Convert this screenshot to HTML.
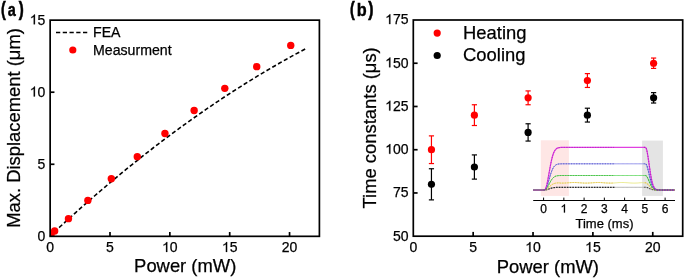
<!DOCTYPE html><html><head><meta charset="utf-8"><style>html,body{margin:0;padding:0;background:#fff;}svg{display:block;will-change:transform;}text{font-family:"Liberation Sans",sans-serif;stroke:#000;stroke-width:0.25px;}</style></head><body>
<svg width="685" height="279" viewBox="0 0 685 279">
<rect width="685" height="279" fill="#fff"/>
<text transform="translate(1.00,15.55) scale(0.73,1)" font-size="19.5" font-weight="bold" fill="#000" style="stroke-width:0.6px">(</text>
<text transform="translate(7.78,16.05) scale(0.81,1)" font-size="17.9" font-weight="bold" fill="#000" style="stroke-width:0.4px">a</text>
<text transform="translate(18.85,15.55) scale(0.77,1)" font-size="19.5" font-weight="bold" fill="#000" style="stroke-width:0.6px">)</text>
<polyline points="50.15,235.90 53.34,232.93 56.52,229.97 59.71,227.03 62.90,224.10 66.09,221.19 69.27,218.30 72.46,215.42 75.65,212.56 78.84,209.72 82.02,206.89 85.21,204.08 88.40,201.28 91.59,198.50 94.77,195.74 97.96,192.99 101.15,190.26 104.34,187.54 107.52,184.84 110.71,182.16 113.90,179.49 117.09,176.84 120.27,174.21 123.46,171.59 126.65,168.99 129.84,166.40 133.02,163.83 136.21,161.28 139.40,158.74 142.59,156.22 145.77,153.71 148.96,151.22 152.15,148.75 155.34,146.29 158.52,143.85 161.71,141.43 164.90,139.02 168.09,136.63 171.27,134.25 174.46,131.89 177.65,129.55 180.84,127.22 184.02,124.91 187.21,122.61 190.40,120.33 193.59,118.07 196.77,115.82 199.96,113.59 203.15,111.38 206.34,109.18 209.52,106.99 212.71,104.83 215.90,102.68 219.09,100.54 222.27,98.43 225.46,96.32 228.65,94.24 231.84,92.17 235.02,90.12 238.21,88.08 241.40,86.06 244.59,84.05 247.77,82.06 250.96,80.09 254.15,78.13 257.34,76.19 260.52,74.27 263.71,72.36 266.90,70.47 270.09,68.59 273.27,66.74 276.46,64.89 279.65,63.06 282.84,61.25 286.02,59.46 289.21,57.68 292.40,55.92 295.59,54.17 298.77,52.44 301.96,50.73 305.15,49.03" fill="none" stroke="#000" stroke-width="1.6" stroke-dasharray="4.2 2.48" stroke-dashoffset="1.10"/>
<defs><clipPath id="cpa"><rect x="50.15" y="20.15" width="269.25" height="216.18"/></clipPath></defs>
<g clip-path="url(#cpa)">
<circle cx="51.00" cy="234.80" r="3.7" fill="#f00"/>
<circle cx="54.65" cy="231.00" r="3.7" fill="#f00"/>
<circle cx="68.46" cy="218.64" r="3.7" fill="#f00"/>
<circle cx="87.86" cy="200.38" r="3.7" fill="#f00"/>
<circle cx="111.32" cy="178.81" r="3.7" fill="#f00"/>
<circle cx="137.29" cy="156.67" r="3.7" fill="#f00"/>
<circle cx="164.94" cy="133.51" r="3.7" fill="#f00"/>
<circle cx="194.15" cy="110.51" r="3.7" fill="#f00"/>
<circle cx="224.80" cy="88.36" r="3.7" fill="#f00"/>
<circle cx="256.75" cy="66.65" r="3.7" fill="#f00"/>
<circle cx="290.75" cy="45.40" r="3.7" fill="#f00"/>
</g>
<rect x="50.15" y="20.15" width="269.25" height="216.18" fill="none" stroke="#000" stroke-width="1.7"/>
<text x="37.51" y="240.83" font-size="14" fill="#000" stroke="#000" stroke-width="0.25">0</text>
<line x1="50.15" y1="164.27" x2="54.449999999999996" y2="164.27" stroke="#000" stroke-width="1.7"/>
<text x="37.51" y="168.77" font-size="14" fill="#000" stroke="#000" stroke-width="0.25">5</text>
<line x1="50.15" y1="92.21" x2="54.449999999999996" y2="92.21" stroke="#000" stroke-width="1.7"/>
<path transform="translate(29.73,96.41) scale(0.00684,-0.00667)" d="M763 0L583 0L583 1147Q518 1085 412 1023Q306 961 223 930L223 1104Q375 1175 489 1276Q603 1377 650 1472L763 1472Z" fill="#000" stroke="#000" stroke-width="36.6"/>
<text x="37.51" y="96.71" font-size="14" fill="#000" stroke="#000" stroke-width="0.25">0</text>
<path transform="translate(29.73,24.35) scale(0.00684,-0.00667)" d="M763 0L583 0L583 1147Q518 1085 412 1023Q306 961 223 930L223 1104Q375 1175 489 1276Q603 1377 650 1472L763 1472Z" fill="#000" stroke="#000" stroke-width="36.6"/>
<text x="37.51" y="24.65" font-size="14" fill="#000" stroke="#000" stroke-width="0.25">5</text>
<text x="46.26" y="252.20" font-size="14" fill="#000" stroke="#000" stroke-width="0.25">0</text>
<line x1="110.00" y1="236.33" x2="110.00" y2="232.03" stroke="#000" stroke-width="1.7"/>
<text x="106.11" y="252.20" font-size="14" fill="#000" stroke="#000" stroke-width="0.25">5</text>
<line x1="169.85" y1="236.33" x2="169.85" y2="232.03" stroke="#000" stroke-width="1.7"/>
<path transform="translate(162.06,251.90) scale(0.00684,-0.00667)" d="M763 0L583 0L583 1147Q518 1085 412 1023Q306 961 223 930L223 1104Q375 1175 489 1276Q603 1377 650 1472L763 1472Z" fill="#000" stroke="#000" stroke-width="36.6"/>
<text x="169.85" y="252.20" font-size="14" fill="#000" stroke="#000" stroke-width="0.25">0</text>
<line x1="229.70" y1="236.33" x2="229.70" y2="232.03" stroke="#000" stroke-width="1.7"/>
<path transform="translate(221.91,251.90) scale(0.00684,-0.00667)" d="M763 0L583 0L583 1147Q518 1085 412 1023Q306 961 223 930L223 1104Q375 1175 489 1276Q603 1377 650 1472L763 1472Z" fill="#000" stroke="#000" stroke-width="36.6"/>
<text x="229.70" y="252.20" font-size="14" fill="#000" stroke="#000" stroke-width="0.25">5</text>
<line x1="289.55" y1="236.33" x2="289.55" y2="232.03" stroke="#000" stroke-width="1.7"/>
<text x="281.76" y="252.20" font-size="14" fill="#000" stroke="#000" stroke-width="0.25">2</text>
<text x="289.55" y="252.20" font-size="14" fill="#000" stroke="#000" stroke-width="0.25">0</text>
<text x="185.2" y="272" font-size="18.4" text-anchor="middle" fill="#000">Power (mW)</text>
<text transform="translate(20.3,128.0) rotate(-90)" font-size="18.4" text-anchor="middle" fill="#000">Max. Displacement (μm)</text>
<line x1="56" y1="32.5" x2="87.3" y2="32.5" stroke="#000" stroke-width="1.6" stroke-dasharray="4.25 2.5"/>
<text x="93" y="37.2" font-size="14.15" fill="#000">FEA</text>
<circle cx="72.8" cy="50.0" r="3.6" fill="#f00"/>
<text x="93" y="54.6" font-size="14.15" fill="#000">Measurment</text>
<text transform="translate(350.00,15.55) scale(0.73,1)" font-size="19.5" font-weight="bold" fill="#000" style="stroke-width:0.6px">(</text>
<text transform="translate(356.83,16.05) scale(0.866,1)" font-size="18.8" font-weight="bold" fill="#000" style="stroke-width:0.4px">b</text>
<text transform="translate(368.35,15.55) scale(0.80,1)" font-size="19.5" font-weight="bold" fill="#000" style="stroke-width:0.6px">)</text>
<rect x="540.8" y="140.3" width="28.1" height="55.6" fill="#fee6e5"/>
<rect x="642.1" y="140.6" width="20.8" height="55.3" fill="#e4e4e4"/>
<polyline points="533.07,190.00 533.88,190.00 534.69,190.00 535.50,190.00 536.31,190.00 537.12,190.00 537.93,190.00 538.74,190.00 539.55,190.00 540.36,190.00 541.17,190.00 541.98,190.00 542.79,190.00 543.60,190.00 544.41,190.00 545.22,189.97 546.03,189.85 546.84,189.66 547.65,189.42 548.46,189.14 549.27,188.85 550.08,188.56 550.89,188.29 551.70,188.06 552.51,187.86 553.32,187.70 554.13,187.58 554.94,187.49 555.75,187.42 556.56,187.38 557.37,187.35 558.18,187.33 558.99,187.32 559.80,187.31 560.61,187.30 561.42,187.30 562.23,187.30 563.04,187.30 563.85,187.30 564.66,187.30 565.47,187.30 566.28,187.30 567.09,187.30 567.90,187.30 568.71,187.30 569.52,187.30 570.33,187.30 571.14,187.30 571.95,187.30 572.76,187.30 573.57,187.30 574.38,187.30 575.19,187.30 576.00,187.30 576.81,187.30 577.62,187.30 578.43,187.30 579.24,187.30 580.05,187.30 580.86,187.30 581.67,187.30 582.48,187.30 583.29,187.30 584.10,187.30 584.91,187.30 585.72,187.30 586.53,187.30 587.34,187.30 588.15,187.30 588.96,187.30 589.77,187.30 590.58,187.30 591.39,187.30 592.20,187.30 593.01,187.30 593.82,187.30 594.63,187.30 595.44,187.30 596.25,187.30 597.06,187.30 597.87,187.30 598.68,187.30 599.49,187.30 600.30,187.30 601.11,187.30 601.92,187.30 602.73,187.30 603.54,187.30 604.35,187.30 605.16,187.30 605.97,187.30 606.78,187.30 607.59,187.30 608.40,187.30 609.21,187.30 610.02,187.30 610.83,187.30 611.64,187.30 612.45,187.30 613.26,187.30 614.07,187.30 614.88,187.30 615.69,187.30 616.50,187.30 617.31,187.30 618.12,187.30 618.93,187.30 619.74,187.30 620.55,187.30 621.36,187.30 622.17,187.30 622.98,187.30 623.79,187.30 624.60,187.30 625.41,187.30 626.22,187.30 627.03,187.30 627.84,187.30 628.65,187.30 629.46,187.30 630.27,187.30 631.08,187.30 631.89,187.30 632.70,187.30 633.51,187.30 634.32,187.30 635.13,187.30 635.94,187.30 636.75,187.30 637.56,187.30 638.37,187.30 639.18,187.30 639.99,187.30 640.80,187.30 641.61,187.30 642.42,187.30 643.23,187.30 644.04,187.30 644.85,187.30 645.66,187.30 646.47,187.40 647.28,187.62 648.09,187.93 648.90,188.28 649.71,188.64 650.52,188.98 651.33,189.27 652.14,189.51 652.95,189.68 653.76,189.80 654.57,189.89 655.38,189.94 656.19,189.97 657.00,189.98 657.81,189.99 658.62,190.00 659.43,190.00 660.24,190.00 661.05,190.00 661.86,190.00 662.67,190.00 663.48,190.00 664.29,190.00 665.10,190.00 665.91,190.00 666.72,190.00 667.53,190.00 668.34,190.00 669.15,190.00 669.96,190.00 670.77,190.00 671.58,190.00 672.39,190.00 673.20,190.00 674.01,190.00 674.82,190.00" fill="none" stroke="#aaaaaa" stroke-width="1.0"/>
<polyline points="533.07,190.00 533.88,190.00 534.69,190.00 535.50,190.00 536.31,190.00 537.12,190.00 537.93,190.00 538.74,190.00 539.55,190.00 540.36,190.00 541.17,190.00 541.98,190.00 542.79,190.00 543.60,190.00 544.41,190.00 545.22,189.91 546.03,189.60 546.84,189.09 547.65,188.44 548.46,187.70 549.27,186.92 550.08,186.16 550.89,185.45 551.70,184.82 552.51,184.30 553.32,183.87 554.13,183.54 554.94,183.30 555.75,183.13 556.56,183.01 557.37,182.93 558.18,182.87 558.99,182.84 559.80,182.82 560.61,183.09 561.42,183.10 562.23,183.10 563.04,183.09 563.85,183.07 564.66,183.04 565.47,182.99 566.28,182.94 567.09,182.88 567.90,182.82 568.71,182.76 569.52,182.69 570.33,182.64 571.14,182.59 571.95,182.55 572.76,182.52 573.57,182.50 574.38,182.50 575.19,182.51 576.00,182.53 576.81,182.57 577.62,182.62 578.43,182.67 579.24,182.73 580.05,182.79 580.86,182.86 581.67,182.92 582.48,182.97 583.29,183.02 584.10,183.06 584.91,183.08 585.72,183.10 586.53,183.10 587.34,183.09 588.15,183.06 588.96,183.02 589.77,182.98 590.58,182.92 591.39,182.86 592.20,182.80 593.01,182.73 593.82,182.67 594.63,182.62 595.44,182.57 596.25,182.54 597.06,182.51 597.87,182.50 598.68,182.50 599.49,182.52 600.30,182.55 601.11,182.59 601.92,182.63 602.73,182.69 603.54,182.75 604.35,182.82 605.16,182.88 605.97,182.94 606.78,182.99 607.59,183.03 608.40,183.07 609.21,183.09 610.02,183.10 610.83,183.10 611.64,183.08 612.45,183.05 613.26,183.01 614.07,182.96 614.88,182.90 615.69,182.84 616.50,182.77 617.31,182.71 618.12,182.65 618.93,182.60 619.74,182.56 620.55,182.53 621.36,182.51 622.17,182.50 622.98,182.51 623.79,182.53 624.60,182.56 625.41,182.60 626.22,182.65 627.03,182.71 627.84,182.77 628.65,182.84 629.46,182.90 630.27,182.96 631.08,183.01 631.89,183.05 632.70,183.08 633.51,183.10 634.32,183.10 635.13,183.09 635.94,183.07 636.75,183.03 637.56,182.99 638.37,182.94 639.18,182.88 639.99,182.81 640.80,182.75 641.61,182.69 642.42,182.63 643.23,182.80 644.04,182.80 644.85,182.80 645.66,182.81 646.47,183.08 647.28,183.66 648.09,184.47 648.90,185.42 649.71,186.38 650.52,187.29 651.33,188.06 652.14,188.69 652.95,189.15 653.76,189.48 654.57,189.70 655.38,189.83 656.19,189.91 657.00,189.96 657.81,189.98 658.62,189.99 659.43,190.00 660.24,190.00 661.05,190.00 661.86,190.00 662.67,190.00 663.48,190.00 664.29,190.00 665.10,190.00 665.91,190.00 666.72,190.00 667.53,190.00 668.34,190.00 669.15,190.00 669.96,190.00 670.77,190.00 671.58,190.00 672.39,190.00 673.20,190.00 674.01,190.00 674.82,190.00" fill="none" stroke="#e6e67c" stroke-width="0.9"/>
<polyline points="533.07,190.00 533.88,190.00 534.69,190.00 535.50,190.00 536.31,190.00 537.12,190.00 537.93,190.00 538.74,190.00 539.55,190.00 540.36,190.00 541.17,190.00 541.98,190.00 542.79,190.00 543.60,190.00 544.41,190.00 545.22,189.81 546.03,189.19 546.84,188.17 547.65,186.86 548.46,185.37 549.27,183.80 550.08,182.26 550.89,180.83 551.70,179.58 552.51,178.52 553.32,177.66 554.13,177.00 554.94,176.51 555.75,176.16 556.56,175.91 557.37,175.75 558.18,175.65 558.99,175.59 559.80,175.55 560.61,175.53 561.42,175.51 562.23,175.51 563.04,175.50 563.85,175.50 564.66,175.50 565.47,175.50 566.28,175.50 567.09,175.50 567.90,175.50 568.71,175.50 569.52,175.50 570.33,175.50 571.14,175.50 571.95,175.50 572.76,175.50 573.57,175.50 574.38,175.50 575.19,175.50 576.00,175.50 576.81,175.50 577.62,175.50 578.43,175.50 579.24,175.50 580.05,175.50 580.86,175.50 581.67,175.50 582.48,175.50 583.29,175.50 584.10,175.50 584.91,175.50 585.72,175.50 586.53,175.50 587.34,175.50 588.15,175.50 588.96,175.50 589.77,175.50 590.58,175.50 591.39,175.50 592.20,175.50 593.01,175.50 593.82,175.50 594.63,175.50 595.44,175.50 596.25,175.50 597.06,175.50 597.87,175.50 598.68,175.50 599.49,175.50 600.30,175.50 601.11,175.50 601.92,175.50 602.73,175.50 603.54,175.50 604.35,175.50 605.16,175.50 605.97,175.50 606.78,175.50 607.59,175.50 608.40,175.50 609.21,175.50 610.02,175.50 610.83,175.50 611.64,175.50 612.45,175.50 613.26,175.50 614.07,175.50 614.88,175.50 615.69,175.50 616.50,175.50 617.31,175.50 618.12,175.50 618.93,175.50 619.74,175.50 620.55,175.50 621.36,175.50 622.17,175.50 622.98,175.50 623.79,175.50 624.60,175.50 625.41,175.50 626.22,175.50 627.03,175.50 627.84,175.50 628.65,175.50 629.46,175.50 630.27,175.50 631.08,175.50 631.89,175.50 632.70,175.50 633.51,175.50 634.32,175.50 635.13,175.50 635.94,175.50 636.75,175.50 637.56,175.50 638.37,175.50 639.18,175.50 639.99,175.50 640.80,175.50 641.61,175.50 642.42,175.50 643.23,175.50 644.04,175.50 644.85,175.50 645.66,175.52 646.47,176.06 647.28,177.22 648.09,178.86 648.90,180.77 649.71,182.72 650.52,184.54 651.33,186.10 652.14,187.35 652.95,188.29 653.76,188.95 654.57,189.39 655.38,189.66 656.19,189.82 657.00,189.91 657.81,189.96 658.62,189.98 659.43,189.99 660.24,190.00 661.05,190.00 661.86,190.00 662.67,190.00 663.48,190.00 664.29,190.00 665.10,190.00 665.91,190.00 666.72,190.00 667.53,190.00 668.34,190.00 669.15,190.00 669.96,190.00 670.77,190.00 671.58,190.00 672.39,190.00 673.20,190.00 674.01,190.00 674.82,190.00" fill="none" stroke="#5cd65c" stroke-width="0.9"/>
<polyline points="533.07,190.00 533.88,190.00 534.69,190.00 535.50,190.00 536.31,190.00 537.12,190.00 537.93,190.00 538.74,190.00 539.55,190.00 540.36,190.00 541.17,190.00 541.98,190.00 542.79,190.00 543.60,190.00 544.41,190.00 545.22,189.66 546.03,188.53 546.84,186.70 547.65,184.33 548.46,181.63 549.27,178.80 550.08,176.02 550.89,173.44 551.70,171.16 552.51,169.25 553.32,167.70 554.13,166.51 554.94,165.62 555.75,164.99 556.56,164.55 557.37,164.26 558.18,164.07 558.99,163.95 559.80,163.89 560.61,163.85 561.42,163.82 562.23,163.81 563.04,163.81 563.85,163.80 564.66,163.80 565.47,163.80 566.28,163.80 567.09,163.80 567.90,163.80 568.71,163.80 569.52,163.80 570.33,163.80 571.14,163.80 571.95,163.80 572.76,163.80 573.57,163.80 574.38,163.80 575.19,163.80 576.00,163.80 576.81,163.80 577.62,163.80 578.43,163.80 579.24,163.80 580.05,163.80 580.86,163.80 581.67,163.80 582.48,163.80 583.29,163.80 584.10,163.80 584.91,163.80 585.72,163.80 586.53,163.80 587.34,163.80 588.15,163.80 588.96,163.80 589.77,163.80 590.58,163.80 591.39,163.80 592.20,163.80 593.01,163.80 593.82,163.80 594.63,163.80 595.44,163.80 596.25,163.80 597.06,163.80 597.87,163.80 598.68,163.80 599.49,163.80 600.30,163.80 601.11,163.80 601.92,163.80 602.73,163.80 603.54,163.80 604.35,163.80 605.16,163.80 605.97,163.80 606.78,163.80 607.59,163.80 608.40,163.80 609.21,163.80 610.02,163.80 610.83,163.80 611.64,163.80 612.45,163.80 613.26,163.80 614.07,163.80 614.88,163.80 615.69,163.80 616.50,163.80 617.31,163.80 618.12,163.80 618.93,163.80 619.74,163.80 620.55,163.80 621.36,163.80 622.17,163.80 622.98,163.80 623.79,163.80 624.60,163.80 625.41,163.80 626.22,163.80 627.03,163.80 627.84,163.80 628.65,163.80 629.46,163.80 630.27,163.80 631.08,163.80 631.89,163.80 632.70,163.80 633.51,163.80 634.32,163.80 635.13,163.80 635.94,163.80 636.75,163.80 637.56,163.80 638.37,163.80 639.18,163.80 639.99,163.80 640.80,163.80 641.61,163.80 642.42,163.80 643.23,163.80 644.04,163.80 644.85,163.80 645.66,163.84 646.47,164.80 647.28,166.91 648.09,169.88 648.90,173.32 649.71,176.85 650.52,180.13 651.33,182.96 652.14,185.22 652.95,186.91 653.76,188.10 654.57,188.89 655.38,189.38 656.19,189.67 657.00,189.84 657.81,189.92 658.62,189.96 659.43,189.98 660.24,189.99 661.05,190.00 661.86,190.00 662.67,190.00 663.48,190.00 664.29,190.00 665.10,190.00 665.91,190.00 666.72,190.00 667.53,190.00 668.34,190.00 669.15,190.00 669.96,190.00 670.77,190.00 671.58,190.00 672.39,190.00 673.20,190.00 674.01,190.00 674.82,190.00" fill="none" stroke="#8c8ce8" stroke-width="1.0"/>
<polyline points="533.07,190.00 533.88,190.00 534.69,190.00 535.50,190.00 536.31,190.00 537.12,190.00 537.93,190.00 538.74,190.00 539.55,190.00 540.36,190.00 541.17,190.00 541.98,190.00 542.79,190.00 543.60,190.00 544.41,190.00 545.22,189.45 546.03,187.61 546.84,184.63 547.65,180.79 548.46,176.40 549.27,171.79 550.08,167.27 550.89,163.07 551.70,159.37 552.51,156.26 553.32,153.75 554.13,151.81 554.94,150.36 555.75,149.33 556.56,148.61 557.37,148.14 558.18,147.84 558.99,147.65 559.80,147.54 560.61,147.47 561.42,147.44 562.23,147.42 563.04,147.41 563.85,147.40 564.66,147.40 565.47,147.40 566.28,147.40 567.09,147.40 567.90,147.40 568.71,147.40 569.52,147.40 570.33,147.40 571.14,147.40 571.95,147.40 572.76,147.40 573.57,147.40 574.38,147.40 575.19,147.40 576.00,147.40 576.81,147.40 577.62,147.40 578.43,147.40 579.24,147.40 580.05,147.40 580.86,147.40 581.67,147.40 582.48,147.40 583.29,147.40 584.10,147.40 584.91,147.40 585.72,147.40 586.53,147.40 587.34,147.40 588.15,147.40 588.96,147.40 589.77,147.40 590.58,147.40 591.39,147.40 592.20,147.40 593.01,147.40 593.82,147.40 594.63,147.40 595.44,147.40 596.25,147.40 597.06,147.40 597.87,147.40 598.68,147.40 599.49,147.40 600.30,147.40 601.11,147.40 601.92,147.40 602.73,147.40 603.54,147.40 604.35,147.40 605.16,147.40 605.97,147.40 606.78,147.40 607.59,147.40 608.40,147.40 609.21,147.40 610.02,147.40 610.83,147.40 611.64,147.40 612.45,147.40 613.26,147.40 614.07,147.40 614.88,147.40 615.69,147.40 616.50,147.40 617.31,147.40 618.12,147.40 618.93,147.40 619.74,147.40 620.55,147.40 621.36,147.40 622.17,147.40 622.98,147.40 623.79,147.40 624.60,147.40 625.41,147.40 626.22,147.40 627.03,147.40 627.84,147.40 628.65,147.40 629.46,147.40 630.27,147.40 631.08,147.40 631.89,147.40 632.70,147.40 633.51,147.40 634.32,147.40 635.13,147.40 635.94,147.40 636.75,147.40 637.56,147.40 638.37,147.40 639.18,147.40 639.99,147.40 640.80,147.40 641.61,147.40 642.42,147.40 643.23,147.40 644.04,147.40 644.85,147.40 645.66,147.47 646.47,149.03 647.28,152.46 648.09,157.29 648.90,162.88 649.71,168.61 650.52,173.95 651.33,178.55 652.14,182.23 652.95,184.98 653.76,186.92 654.57,188.20 655.38,189.00 656.19,189.47 657.00,189.73 657.81,189.87 658.62,189.94 659.43,189.97 660.24,189.99 661.05,190.00 661.86,190.00 662.67,190.00 663.48,190.00 664.29,190.00 665.10,190.00 665.91,190.00 666.72,190.00 667.53,190.00 668.34,190.00 669.15,190.00 669.96,190.00 670.77,190.00 671.58,190.00 672.39,190.00 673.20,190.00 674.01,190.00 674.82,190.00" fill="none" stroke="#e040e0" stroke-width="1.25"/>
<line x1="533.07" y1="190.00" x2="544.82" y2="190.00" stroke="#6f6470" stroke-width="1.1"/>
<polyline points="545.62,189.92 546.44,189.76 547.25,189.54 548.06,189.28 548.87,188.99 549.68,188.70 550.49,188.42 551.30,188.17 552.11,187.96 552.91,187.78 553.73,187.64 554.53,187.53 555.35,187.45 556.15,187.40 556.97,187.36 557.77,187.34 558.59,187.32 559.39,187.31 560.21,187.31 561.01,187.30 561.83,187.30 562.63,187.30 563.45,187.30 564.25,187.30 565.07,187.30 565.88,187.30 566.69,187.30 567.50,187.30 568.31,187.30 569.12,187.30 569.93,187.30 570.74,187.30 571.55,187.30 572.36,187.30 573.17,187.30 573.98,187.30 574.79,187.30 575.60,187.30 576.41,187.30 577.22,187.30 578.03,187.30 578.84,187.30 579.64,187.30 580.46,187.30 581.27,187.30 582.08,187.30 582.88,187.30 583.70,187.30 584.50,187.30 585.32,187.30 586.12,187.30 586.94,187.30 587.75,187.30 588.56,187.30 589.37,187.30 590.18,187.30 590.99,187.30 591.80,187.30 592.61,187.30 593.42,187.30 594.23,187.30 595.04,187.30 595.85,187.30 596.66,187.30 597.47,187.30 598.28,187.30 599.09,187.30 599.90,187.30 600.71,187.30 601.52,187.30 602.33,187.30 603.14,187.30 603.95,187.30 604.76,187.30 605.57,187.30 606.38,187.30 607.19,187.30 608.00,187.30 608.81,187.30 609.62,187.30 610.43,187.30 611.24,187.30 612.05,187.30 612.86,187.30 613.67,187.30 614.48,187.30" fill="none" stroke="#2a2a2a" stroke-width="1.2" stroke-dasharray="1.6 1.1"/>
<polyline points="643.84,187.30 644.65,187.30 645.46,187.30 646.27,187.37 647.08,187.56 647.89,187.84 648.70,188.19 649.51,188.55 650.32,188.90 651.13,189.21 651.94,189.45 652.75,189.64 653.56,189.78 654.37,189.87 655.18,189.93 655.99,189.96 656.80,189.98 657.61,189.99 658.42,190.00 659.23,190.00 660.04,190.00 660.85,190.00 661.66,190.00 662.47,190.00 663.28,190.00 664.09,190.00 664.90,190.00 665.71,190.00 666.52,190.00 667.33,190.00 668.14,190.00 668.95,190.00 669.76,190.00 670.57,190.00 671.38,190.00 672.19,190.00 673.00,190.00 673.81,190.00 674.62,190.00" fill="none" stroke="#2a2a2a" stroke-width="1.1" stroke-dasharray="1.3 1.3" stroke-dashoffset="2.20" opacity="0.85"/>
<polyline points="543.60,190.00 544.41,190.00 545.22,189.91 546.03,189.60 546.84,189.09 547.65,188.44 548.46,187.70 549.27,186.92 550.08,186.16 550.89,185.45 551.70,184.82 552.51,184.30 553.32,183.87 554.13,183.54 554.94,183.30 555.75,183.13 556.56,183.01 557.37,182.93 558.18,182.87 558.99,182.84 559.80,183.07 560.61,183.09 561.42,183.10 562.23,183.10 563.04,183.09 563.85,183.07 564.66,183.04 565.47,182.99 566.28,182.94 567.09,182.88 567.90,182.82 568.71,182.76 569.52,182.69 570.33,182.64 571.14,182.59 571.95,182.55 572.76,182.52 573.57,182.50 574.38,182.50 575.19,182.51 576.00,182.53 576.81,182.57 577.62,182.62 578.43,182.67 579.24,182.73 580.05,182.79 580.86,182.86 581.67,182.92 582.48,182.97 583.29,183.02 584.10,183.06 584.91,183.08 585.72,183.10 586.53,183.10 587.34,183.09 588.15,183.06 588.96,183.02 589.77,182.98 590.58,182.92 591.39,182.86 592.20,182.80 593.01,182.73 593.82,182.67 594.63,182.62 595.44,182.57 596.25,182.54 597.06,182.51 597.87,182.50 598.68,182.50 599.49,182.52 600.30,182.55 601.11,182.59 601.92,182.63 602.73,182.69 603.54,182.75 604.35,182.82 605.16,182.88 605.97,182.94 606.78,182.99 607.59,183.03 608.40,183.07 609.21,183.09 610.02,183.10 610.83,183.10 611.64,183.08 612.45,183.05 613.26,183.01 614.07,182.96" fill="none" stroke="#eab440" stroke-width="1" stroke-dasharray="1.3 1.3" opacity="0.8"/>
<polyline points="643.84,182.80 644.65,182.80 645.46,182.80 646.27,182.98 647.08,183.49 647.89,184.25 648.70,185.17 649.51,186.15 650.32,187.07 651.13,187.88 651.94,188.55 652.75,189.05 653.56,189.41 654.37,189.65 655.18,189.80 655.99,189.89 656.80,189.95 657.61,189.97 658.42,189.99 659.23,189.99 660.04,190.00 660.85,190.00 661.66,190.00 662.47,190.00 663.28,190.00 664.09,190.00 664.90,190.00 665.71,190.00 666.52,190.00 667.33,190.00 668.14,190.00 668.95,190.00 669.76,190.00 670.57,190.00 671.38,190.00 672.19,190.00 673.00,190.00 673.81,190.00 674.62,190.00" fill="none" stroke="#eab440" stroke-width="1.1" stroke-dasharray="1.3 1.3" stroke-dashoffset="1.65" opacity="0.85"/>
<polyline points="543.60,190.00 544.41,190.00 545.22,189.81 546.03,189.19 546.84,188.17 547.65,186.86 548.46,185.37 549.27,183.80 550.08,182.26 550.89,180.83 551.70,179.58 552.51,178.52 553.32,177.66 554.13,177.00 554.94,176.51 555.75,176.16 556.56,175.91 557.37,175.75 558.18,175.65 558.99,175.59 559.80,175.55 560.61,175.53 561.42,175.51 562.23,175.51 563.04,175.50 563.85,175.50 564.66,175.50 565.47,175.50 566.28,175.50 567.09,175.50 567.90,175.50 568.71,175.50 569.52,175.50 570.33,175.50 571.14,175.50 571.95,175.50 572.76,175.50 573.57,175.50 574.38,175.50 575.19,175.50 576.00,175.50 576.81,175.50 577.62,175.50 578.43,175.50 579.24,175.50 580.05,175.50 580.86,175.50 581.67,175.50 582.48,175.50 583.29,175.50 584.10,175.50 584.91,175.50 585.72,175.50 586.53,175.50 587.34,175.50 588.15,175.50 588.96,175.50 589.77,175.50 590.58,175.50 591.39,175.50 592.20,175.50 593.01,175.50 593.82,175.50 594.63,175.50 595.44,175.50 596.25,175.50 597.06,175.50 597.87,175.50 598.68,175.50 599.49,175.50 600.30,175.50 601.11,175.50 601.92,175.50 602.73,175.50 603.54,175.50 604.35,175.50 605.16,175.50 605.97,175.50 606.78,175.50 607.59,175.50 608.40,175.50 609.21,175.50 610.02,175.50 610.83,175.50 611.64,175.50 612.45,175.50 613.26,175.50 614.07,175.50" fill="none" stroke="#2fae2f" stroke-width="1" stroke-dasharray="1.3 1.3" opacity="0.8"/>
<polyline points="643.84,175.50 644.65,175.50 645.46,175.50 646.27,175.86 647.08,176.88 647.89,178.42 648.70,180.28 649.51,182.24 650.32,184.10 651.13,185.74 651.94,187.07 652.75,188.09 653.56,188.81 654.37,189.30 655.18,189.60 655.99,189.79 656.80,189.89 657.61,189.95 658.42,189.98 659.23,189.99 660.04,190.00 660.85,190.00 661.66,190.00 662.47,190.00 663.28,190.00 664.09,190.00 664.90,190.00 665.71,190.00 666.52,190.00 667.33,190.00 668.14,190.00 668.95,190.00 669.76,190.00 670.57,190.00 671.38,190.00 672.19,190.00 673.00,190.00 673.81,190.00 674.62,190.00" fill="none" stroke="#2fae2f" stroke-width="1.1" stroke-dasharray="1.3 1.3" stroke-dashoffset="1.10" opacity="0.85"/>
<polyline points="543.60,190.00 544.41,190.00 545.22,189.66 546.03,188.53 546.84,186.70 547.65,184.33 548.46,181.63 549.27,178.80 550.08,176.02 550.89,173.44 551.70,171.16 552.51,169.25 553.32,167.70 554.13,166.51 554.94,165.62 555.75,164.99 556.56,164.55 557.37,164.26 558.18,164.07 558.99,163.95 559.80,163.89 560.61,163.85 561.42,163.82 562.23,163.81 563.04,163.81 563.85,163.80 564.66,163.80 565.47,163.80 566.28,163.80 567.09,163.80 567.90,163.80 568.71,163.80 569.52,163.80 570.33,163.80 571.14,163.80 571.95,163.80 572.76,163.80 573.57,163.80 574.38,163.80 575.19,163.80 576.00,163.80 576.81,163.80 577.62,163.80 578.43,163.80 579.24,163.80 580.05,163.80 580.86,163.80 581.67,163.80 582.48,163.80 583.29,163.80 584.10,163.80 584.91,163.80 585.72,163.80 586.53,163.80 587.34,163.80 588.15,163.80 588.96,163.80 589.77,163.80 590.58,163.80 591.39,163.80 592.20,163.80 593.01,163.80 593.82,163.80 594.63,163.80 595.44,163.80 596.25,163.80 597.06,163.80 597.87,163.80 598.68,163.80 599.49,163.80 600.30,163.80 601.11,163.80 601.92,163.80 602.73,163.80 603.54,163.80 604.35,163.80 605.16,163.80 605.97,163.80 606.78,163.80 607.59,163.80 608.40,163.80 609.21,163.80 610.02,163.80 610.83,163.80 611.64,163.80 612.45,163.80 613.26,163.80 614.07,163.80" fill="none" stroke="#4444c4" stroke-width="1" stroke-dasharray="1.3 1.3" opacity="0.8"/>
<polyline points="643.84,163.80 644.65,163.80 645.46,163.80 646.27,164.45 647.08,166.29 647.89,169.08 648.70,172.44 649.51,175.97 650.32,179.35 651.13,182.30 651.94,184.71 652.75,186.54 653.56,187.85 654.37,188.73 655.18,189.28 655.99,189.62 656.80,189.80 657.61,189.91 658.42,189.96 659.23,189.98 660.04,189.99 660.85,190.00 661.66,190.00 662.47,190.00 663.28,190.00 664.09,190.00 664.90,190.00 665.71,190.00 666.52,190.00 667.33,190.00 668.14,190.00 668.95,190.00 669.76,190.00 670.57,190.00 671.38,190.00 672.19,190.00 673.00,190.00 673.81,190.00 674.62,190.00" fill="none" stroke="#4444c4" stroke-width="1.1" stroke-dasharray="1.3 1.3" stroke-dashoffset="0.55" opacity="0.85"/>
<polyline points="543.60,190.00 544.41,190.00 545.22,189.45 546.03,187.61 546.84,184.63 547.65,180.79 548.46,176.40 549.27,171.79 550.08,167.27 550.89,163.07 551.70,159.37 552.51,156.26 553.32,153.75 554.13,151.81 554.94,150.36 555.75,149.33 556.56,148.61 557.37,148.14 558.18,147.84 558.99,147.65 559.80,147.54 560.61,147.47 561.42,147.44 562.23,147.42 563.04,147.41 563.85,147.40 564.66,147.40 565.47,147.40 566.28,147.40 567.09,147.40 567.90,147.40 568.71,147.40 569.52,147.40 570.33,147.40 571.14,147.40 571.95,147.40 572.76,147.40 573.57,147.40 574.38,147.40 575.19,147.40 576.00,147.40 576.81,147.40 577.62,147.40 578.43,147.40 579.24,147.40 580.05,147.40 580.86,147.40 581.67,147.40 582.48,147.40 583.29,147.40 584.10,147.40 584.91,147.40 585.72,147.40 586.53,147.40 587.34,147.40 588.15,147.40 588.96,147.40 589.77,147.40 590.58,147.40 591.39,147.40 592.20,147.40 593.01,147.40 593.82,147.40 594.63,147.40 595.44,147.40 596.25,147.40 597.06,147.40 597.87,147.40 598.68,147.40 599.49,147.40 600.30,147.40 601.11,147.40 601.92,147.40 602.73,147.40 603.54,147.40 604.35,147.40 605.16,147.40 605.97,147.40 606.78,147.40 607.59,147.40 608.40,147.40 609.21,147.40 610.02,147.40 610.83,147.40 611.64,147.40 612.45,147.40 613.26,147.40 614.07,147.40" fill="none" stroke="#b020c0" stroke-width="1" stroke-dasharray="1.3 1.3" opacity="0.8"/>
<polyline points="643.84,147.40 644.65,147.40 645.46,147.40 646.27,148.45 647.08,151.45 647.89,155.98 648.70,161.44 649.51,167.20 650.32,172.68 651.13,177.48 651.94,181.40 652.75,184.38 653.56,186.50 654.37,187.93 655.18,188.84 655.99,189.38 656.80,189.68 657.61,189.85 658.42,189.93 659.23,189.97 660.04,189.99 660.85,189.99 661.66,190.00 662.47,190.00 663.28,190.00 664.09,190.00 664.90,190.00 665.71,190.00 666.52,190.00 667.33,190.00 668.14,190.00 668.95,190.00 669.76,190.00 670.57,190.00 671.38,190.00 672.19,190.00 673.00,190.00 673.81,190.00 674.62,190.00" fill="none" stroke="#b020c0" stroke-width="1.1" stroke-dasharray="1.3 1.3" stroke-dashoffset="0.00" opacity="0.85"/>
<line x1="533.2" y1="200.5" x2="675" y2="200.5" stroke="#000" stroke-width="1.1"/>
<line x1="543.60" y1="200.5" x2="543.60" y2="197.6" stroke="#000" stroke-width="1"/>
<text x="540.26" y="212.90" font-size="12" fill="#000" stroke="#000" stroke-width="0.25">0</text>
<line x1="563.85" y1="200.5" x2="563.85" y2="197.6" stroke="#000" stroke-width="1"/>
<path transform="translate(560.51,212.60) scale(0.00586,-0.00571)" d="M763 0L583 0L583 1147Q518 1085 412 1023Q306 961 223 930L223 1104Q375 1175 489 1276Q603 1377 650 1472L763 1472Z" fill="#000" stroke="#000" stroke-width="42.7"/>
<line x1="584.10" y1="200.5" x2="584.10" y2="197.6" stroke="#000" stroke-width="1"/>
<text x="580.76" y="212.90" font-size="12" fill="#000" stroke="#000" stroke-width="0.25">2</text>
<line x1="604.35" y1="200.5" x2="604.35" y2="197.6" stroke="#000" stroke-width="1"/>
<text x="601.01" y="212.90" font-size="12" fill="#000" stroke="#000" stroke-width="0.25">3</text>
<line x1="624.60" y1="200.5" x2="624.60" y2="197.6" stroke="#000" stroke-width="1"/>
<text x="621.26" y="212.90" font-size="12" fill="#000" stroke="#000" stroke-width="0.25">4</text>
<line x1="644.85" y1="200.5" x2="644.85" y2="197.6" stroke="#000" stroke-width="1"/>
<text x="641.51" y="212.90" font-size="12" fill="#000" stroke="#000" stroke-width="0.25">5</text>
<line x1="665.10" y1="200.5" x2="665.10" y2="197.6" stroke="#000" stroke-width="1"/>
<text x="661.76" y="212.90" font-size="12" fill="#000" stroke="#000" stroke-width="0.25">6</text>
<text x="604.5" y="227.8" font-size="13" text-anchor="middle" fill="#000">Time (ms)</text>
<line x1="431.45" y1="135.88" x2="431.45" y2="163.56" stroke="#f00" stroke-width="1.2"/>
<line x1="428.85" y1="135.88" x2="434.05" y2="135.88" stroke="#f00" stroke-width="1.2"/>
<line x1="428.85" y1="163.56" x2="434.05" y2="163.56" stroke="#f00" stroke-width="1.2"/>
<circle cx="431.45" cy="149.72" r="3.6" fill="#f00"/>
<line x1="474.40" y1="104.75" x2="474.40" y2="125.51" stroke="#f00" stroke-width="1.2"/>
<line x1="471.80" y1="104.75" x2="477.00" y2="104.75" stroke="#f00" stroke-width="1.2"/>
<line x1="471.80" y1="125.51" x2="477.00" y2="125.51" stroke="#f00" stroke-width="1.2"/>
<circle cx="474.40" cy="115.13" r="3.6" fill="#f00"/>
<line x1="528.10" y1="90.91" x2="528.10" y2="104.75" stroke="#f00" stroke-width="1.2"/>
<line x1="525.50" y1="90.91" x2="530.70" y2="90.91" stroke="#f00" stroke-width="1.2"/>
<line x1="525.50" y1="104.75" x2="530.70" y2="104.75" stroke="#f00" stroke-width="1.2"/>
<circle cx="528.10" cy="97.83" r="3.6" fill="#f00"/>
<line x1="587.40" y1="73.62" x2="587.40" y2="87.45" stroke="#f00" stroke-width="1.2"/>
<line x1="584.80" y1="73.62" x2="590.00" y2="73.62" stroke="#f00" stroke-width="1.2"/>
<line x1="584.80" y1="87.45" x2="590.00" y2="87.45" stroke="#f00" stroke-width="1.2"/>
<circle cx="587.40" cy="80.54" r="3.6" fill="#f00"/>
<line x1="653.60" y1="58.05" x2="653.60" y2="68.43" stroke="#f00" stroke-width="1.2"/>
<line x1="651.00" y1="58.05" x2="656.20" y2="58.05" stroke="#f00" stroke-width="1.2"/>
<line x1="651.00" y1="68.43" x2="656.20" y2="68.43" stroke="#f00" stroke-width="1.2"/>
<circle cx="653.60" cy="63.24" r="3.6" fill="#f00"/>
<line x1="431.45" y1="168.75" x2="431.45" y2="199.88" stroke="#000" stroke-width="1.2"/>
<line x1="428.85" y1="168.75" x2="434.05" y2="168.75" stroke="#000" stroke-width="1.2"/>
<line x1="428.85" y1="199.88" x2="434.05" y2="199.88" stroke="#000" stroke-width="1.2"/>
<circle cx="431.45" cy="184.31" r="3.6" fill="#000"/>
<line x1="474.40" y1="154.91" x2="474.40" y2="179.12" stroke="#000" stroke-width="1.2"/>
<line x1="471.80" y1="154.91" x2="477.00" y2="154.91" stroke="#000" stroke-width="1.2"/>
<line x1="471.80" y1="179.12" x2="477.00" y2="179.12" stroke="#000" stroke-width="1.2"/>
<circle cx="474.40" cy="167.02" r="3.6" fill="#000"/>
<line x1="528.10" y1="123.78" x2="528.10" y2="141.07" stroke="#000" stroke-width="1.2"/>
<line x1="525.50" y1="123.78" x2="530.70" y2="123.78" stroke="#000" stroke-width="1.2"/>
<line x1="525.50" y1="141.07" x2="530.70" y2="141.07" stroke="#000" stroke-width="1.2"/>
<circle cx="528.10" cy="132.42" r="3.6" fill="#000"/>
<line x1="587.40" y1="108.21" x2="587.40" y2="122.05" stroke="#000" stroke-width="1.2"/>
<line x1="584.80" y1="108.21" x2="590.00" y2="108.21" stroke="#000" stroke-width="1.2"/>
<line x1="584.80" y1="122.05" x2="590.00" y2="122.05" stroke="#000" stroke-width="1.2"/>
<circle cx="587.40" cy="115.13" r="3.6" fill="#000"/>
<line x1="653.60" y1="92.64" x2="653.60" y2="103.02" stroke="#000" stroke-width="1.2"/>
<line x1="651.00" y1="92.64" x2="656.20" y2="92.64" stroke="#000" stroke-width="1.2"/>
<line x1="651.00" y1="103.02" x2="656.20" y2="103.02" stroke="#000" stroke-width="1.2"/>
<circle cx="653.60" cy="97.83" r="3.6" fill="#000"/>
<rect x="413.30" y="20.00" width="269.40" height="216.20" fill="none" stroke="#000" stroke-width="1.7"/>
<text x="392.93" y="240.60" font-size="14" fill="#000" stroke="#000" stroke-width="0.25">5</text>
<text x="400.71" y="240.60" font-size="14" fill="#000" stroke="#000" stroke-width="0.25">0</text>
<line x1="413.3" y1="192.96" x2="417.6" y2="192.96" stroke="#000" stroke-width="1.7"/>
<text x="392.93" y="197.36" font-size="14" fill="#000" stroke="#000" stroke-width="0.25">7</text>
<text x="400.71" y="197.36" font-size="14" fill="#000" stroke="#000" stroke-width="0.25">5</text>
<line x1="413.3" y1="149.72" x2="417.6" y2="149.72" stroke="#000" stroke-width="1.7"/>
<path transform="translate(385.14,153.82) scale(0.00684,-0.00667)" d="M763 0L583 0L583 1147Q518 1085 412 1023Q306 961 223 930L223 1104Q375 1175 489 1276Q603 1377 650 1472L763 1472Z" fill="#000" stroke="#000" stroke-width="36.6"/>
<text x="392.93" y="154.12" font-size="14" fill="#000" stroke="#000" stroke-width="0.25">0</text>
<text x="400.71" y="154.12" font-size="14" fill="#000" stroke="#000" stroke-width="0.25">0</text>
<line x1="413.3" y1="106.48" x2="417.6" y2="106.48" stroke="#000" stroke-width="1.7"/>
<path transform="translate(385.14,110.58) scale(0.00684,-0.00667)" d="M763 0L583 0L583 1147Q518 1085 412 1023Q306 961 223 930L223 1104Q375 1175 489 1276Q603 1377 650 1472L763 1472Z" fill="#000" stroke="#000" stroke-width="36.6"/>
<text x="392.93" y="110.88" font-size="14" fill="#000" stroke="#000" stroke-width="0.25">2</text>
<text x="400.71" y="110.88" font-size="14" fill="#000" stroke="#000" stroke-width="0.25">5</text>
<line x1="413.3" y1="63.24" x2="417.6" y2="63.24" stroke="#000" stroke-width="1.7"/>
<path transform="translate(385.14,67.34) scale(0.00684,-0.00667)" d="M763 0L583 0L583 1147Q518 1085 412 1023Q306 961 223 930L223 1104Q375 1175 489 1276Q603 1377 650 1472L763 1472Z" fill="#000" stroke="#000" stroke-width="36.6"/>
<text x="392.93" y="67.64" font-size="14" fill="#000" stroke="#000" stroke-width="0.25">5</text>
<text x="400.71" y="67.64" font-size="14" fill="#000" stroke="#000" stroke-width="0.25">0</text>
<path transform="translate(385.14,24.10) scale(0.00684,-0.00667)" d="M763 0L583 0L583 1147Q518 1085 412 1023Q306 961 223 930L223 1104Q375 1175 489 1276Q603 1377 650 1472L763 1472Z" fill="#000" stroke="#000" stroke-width="36.6"/>
<text x="392.93" y="24.40" font-size="14" fill="#000" stroke="#000" stroke-width="0.25">7</text>
<text x="400.71" y="24.40" font-size="14" fill="#000" stroke="#000" stroke-width="0.25">5</text>
<text x="409.41" y="252.20" font-size="14" fill="#000" stroke="#000" stroke-width="0.25">0</text>
<line x1="473.17" y1="236.2" x2="473.17" y2="231.89999999999998" stroke="#000" stroke-width="1.7"/>
<text x="469.27" y="252.20" font-size="14" fill="#000" stroke="#000" stroke-width="0.25">5</text>
<line x1="533.03" y1="236.2" x2="533.03" y2="231.89999999999998" stroke="#000" stroke-width="1.7"/>
<path transform="translate(525.24,251.90) scale(0.00684,-0.00667)" d="M763 0L583 0L583 1147Q518 1085 412 1023Q306 961 223 930L223 1104Q375 1175 489 1276Q603 1377 650 1472L763 1472Z" fill="#000" stroke="#000" stroke-width="36.6"/>
<text x="533.03" y="252.20" font-size="14" fill="#000" stroke="#000" stroke-width="0.25">0</text>
<line x1="592.89" y1="236.2" x2="592.89" y2="231.89999999999998" stroke="#000" stroke-width="1.7"/>
<path transform="translate(585.11,251.90) scale(0.00684,-0.00667)" d="M763 0L583 0L583 1147Q518 1085 412 1023Q306 961 223 930L223 1104Q375 1175 489 1276Q603 1377 650 1472L763 1472Z" fill="#000" stroke="#000" stroke-width="36.6"/>
<text x="592.89" y="252.20" font-size="14" fill="#000" stroke="#000" stroke-width="0.25">5</text>
<line x1="652.76" y1="236.2" x2="652.76" y2="231.89999999999998" stroke="#000" stroke-width="1.7"/>
<text x="644.97" y="252.20" font-size="14" fill="#000" stroke="#000" stroke-width="0.25">2</text>
<text x="652.76" y="252.20" font-size="14" fill="#000" stroke="#000" stroke-width="0.25">0</text>
<text x="547.9" y="272.7" font-size="18.4" text-anchor="middle" fill="#000">Power (mW)</text>
<text transform="translate(376,127.85) rotate(-90)" font-size="18.4" text-anchor="middle" fill="#000">Time constants (μs)</text>
<circle cx="437.2" cy="33.1" r="3.6" fill="#f00"/>
<text x="463.1" y="39.0" font-size="18.4" fill="#000">Heating</text>
<circle cx="437.2" cy="55.5" r="3.6" fill="#000"/>
<text x="463.1" y="61.3" font-size="18.4" fill="#000">Cooling</text>
</svg></body></html>
